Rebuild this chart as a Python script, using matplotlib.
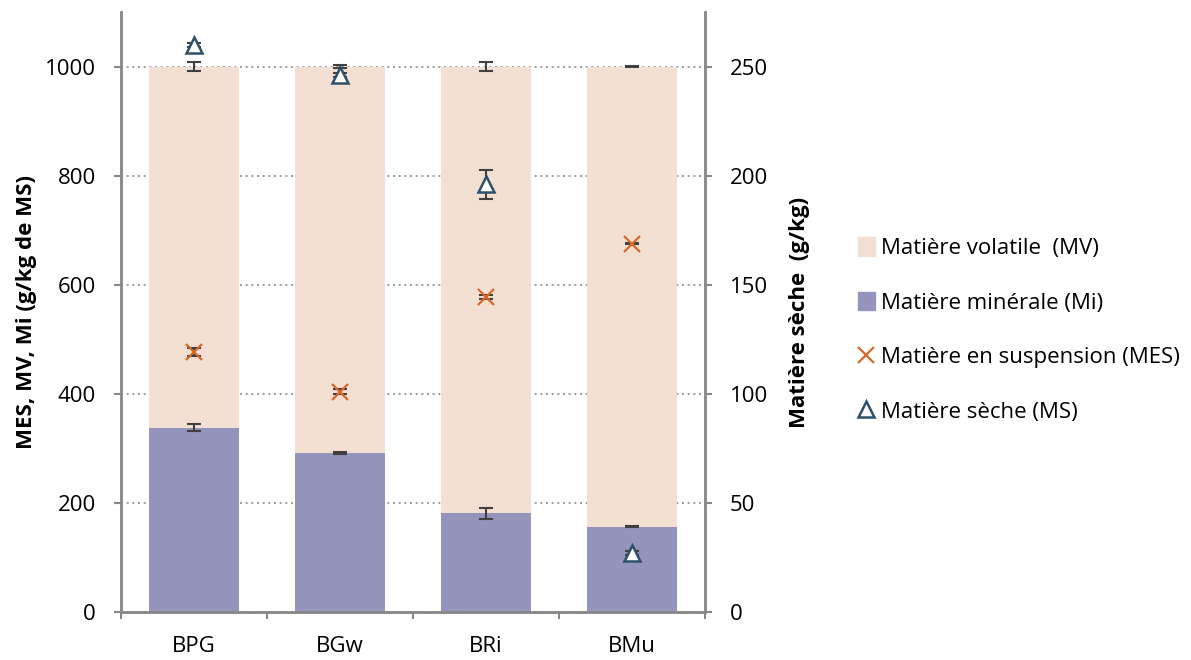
import matplotlib
matplotlib.use('Agg')
import matplotlib.pyplot as plt
from matplotlib.lines import Line2D
from matplotlib.patches import Patch
import numpy as np

plt.rcParams['font.family'] = ['Open Sans', 'DejaVu Sans']

# data
categories = ['BPG', 'BGw', 'BRi', 'BMu']
mi = [338, 291, 181, 156]            # matière minérale, g/kg MS
mi_err = [6, 2, 10, 1]
mv_err = [8, 2, 9, 1]               # error at top of stacked bar (total 1000)
mes = [477, 404, 578, 675]          # matière en suspension
mes_err = [7, 5, 4, 1]
ms = [260, 246, 196, 27]            # matière sèche, g/kg (right axis)
ms_err = [1, 1, 6.5, 1]

MV_COL = '#F4DFD3'
MI_COL = '#9494BD'
MES_COL = '#D9692A'
MS_COL = '#2E5068'
ERR_COL = '#404040'
AX_COL = '#888888'
FS = 16

mv = [1000 - v for v in mi]
x = np.arange(len(categories))

fig = plt.figure(figsize=(11.91, 6.60), dpi=100)
ax = fig.add_axes([121 / 1191, 1 - 612 / 660, 584 / 1191, 600 / 660])
ax2 = ax.twinx()

ax.bar(x, mi, width=0.62, color=MI_COL, zorder=2)
ax.bar(x, mv, width=0.62, bottom=mi, color=MV_COL, zorder=2)
ax.errorbar(x, mi, yerr=mi_err, fmt='none', ecolor=ERR_COL, capsize=5,
            elinewidth=1.5, capthick=1.5, zorder=3)
ax.errorbar(x, [1000] * 4, yerr=mv_err, fmt='none', ecolor=ERR_COL,
            capsize=5, elinewidth=1.5, capthick=1.5, zorder=3)
ax.errorbar(x, mes, yerr=mes_err, fmt='none', ecolor=ERR_COL, capsize=5,
            elinewidth=1.5, capthick=1.5, zorder=3)
ax.plot(x, mes, ls='none', marker='x', ms=11, mew=1.6, color=MES_COL,
        zorder=4)

ax2.errorbar(x, ms, yerr=ms_err, fmt='none', ecolor=ERR_COL, capsize=5,
             elinewidth=1.5, capthick=1.5, zorder=3)
ax2.plot(x, ms, ls='none', marker='^', ms=11.5, mew=1.8, mfc='white',
         mec=MS_COL, zorder=4)

ax.set_xlim(-0.5, 3.5)
ax.set_ylim(0, 1100)
ax2.set_ylim(0, 275)
ax.set_yticks(range(0, 1001, 200))
ax2.set_yticks(range(0, 251, 50))
ax.set_xticks(x, categories)
ax.set_xticks(np.arange(-0.5, 4, 1), minor=True)
ax.tick_params(axis='x', which='major', length=0, labelsize=FS, pad=17)
ax.tick_params(axis='x', which='minor', length=5, width=1.5, color=AX_COL)
ax.tick_params(axis='y', length=5, width=1.5, color=AX_COL, labelsize=FS,
               pad=13)
ax2.tick_params(axis='y', length=5, width=1.5, color=AX_COL, labelsize=FS,
                pad=13)

ax.yaxis.grid(True, ls=(0, (1.2, 2.2)), color='#8c8c8c', lw=1.2, zorder=0)
ax.set_axisbelow(True)
for a in (ax, ax2):
    a.spines['top'].set_visible(False)
    for s in ('left', 'right', 'bottom'):
        a.spines[s].set_color(AX_COL)
        a.spines[s].set_linewidth(1.8)

ax.set_ylabel('MES, MV, Mi (g/kg de MS)', fontsize=FS, fontweight='bold',
              labelpad=6)
ax2.set_ylabel('Matière sèche  (g/kg)', fontsize=FS, fontweight='bold',
               labelpad=15)

handles = [
    Patch(color=MV_COL),
    Patch(color=MI_COL),
    Line2D([], [], ls='none', marker='x', ms=11, mew=1.6, color=MES_COL),
    Line2D([], [], ls='none', marker='^', ms=11.5, mew=1.8, mfc='white',
           mec=MS_COL),
]
labels = ['Matière volatile  (MV)', 'Matière minérale (Mi)',
          'Matière en suspension (MES)', 'Matière sèche (MS)']
fig.legend(handles, labels, loc='center left',
           bbox_to_anchor=(838 / 1191, 1 - 330 / 660), frameon=False,
           fontsize=FS, labelspacing=1.47, handlelength=0.75,
           handletextpad=0.3, handleheight=0.9)

fig.savefig('out.png', dpi=100)
